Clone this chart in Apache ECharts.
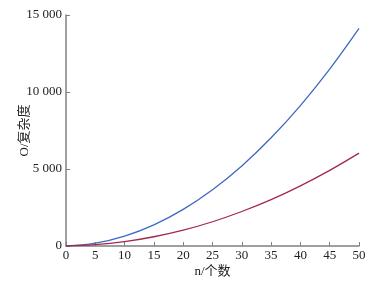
<!DOCTYPE html>
<html><head><meta charset="utf-8">
<script src="https://cdn.jsdelivr.net/npm/echarts@6/dist/echarts.min.js"></script>
<style>html,body{margin:0;padding:0;background:#fff}#c{width:392px;height:282px}</style>
</head><body><div id="c"></div>
<script>
const nValues = [0, 5, 10, 15, 20, 25, 30, 35, 40, 45, 50];
const blueSeries = [0, 185, 645, 1375, 2380, 3655, 5200, 7025, 9120, 11485, 14125];
const redSeries = [0, 86, 286, 600, 1030, 1575, 2240, 3010, 3905, 4910, 6030];
const yTicks = [0, 5000, 10000, 15000];

const font = '"Liberation Serif", "Noto Sans CJK SC", serif';
const chart = echarts.init(document.getElementById('c'), null, {renderer: 'canvas'});
chart.setOption({
  animation: false,
  grid: {left: 66, right: 33, top: 15, bottom: 36, containLabel: false, outerBoundsMode: 'none'},
  xAxis: {
    type: 'value', min: 0, max: 50, interval: 5,
    name: 'n/个数', nameLocation: 'middle', nameGap: 19, nameMoveOverlap: false,
    nameTextStyle: {fontFamily: font, fontSize: 13, color: '#222'},
    axisLine: {lineStyle: {color: '#808080', width: 1.5}},
    axisTick: {inside: true, length: 4, lineStyle: {color: '#808080'}},
    axisLabel: {fontFamily: font, fontSize: 13, color: '#222', margin: 3},
    splitLine: {show: false}
  },
  yAxis: {
    type: 'value', min: 0, max: 15000, interval: 5000,
    name: 'O/复杂度', nameLocation: 'middle', nameGap: 35, nameMoveOverlap: false,
    nameTextStyle: {fontFamily: font, fontSize: 13, color: '#222'},
    axisLine: {show: true, lineStyle: {color: '#808080', width: 1.5}},
    axisTick: {show: true, inside: true, length: 4, lineStyle: {color: '#808080'}},
    axisLabel: {fontFamily: font, fontSize: 13, color: '#222', margin: 4,
      formatter: v => yTicks.includes(v) ? String(v).replace(/\B(?=(\d{3})+(?!\d))/g, ' ') : ''},
    splitLine: {show: false}
  },
  series: [
    {type: 'line', data: nValues.map((n, i) => [n, blueSeries[i]]), smooth: 0.4, showSymbol: false,
      lineStyle: {color: '#3d69c2', width: 1.3}},
    {type: 'line', data: nValues.map((n, i) => [n, redSeries[i]]), smooth: 0.4, showSymbol: false,
      lineStyle: {color: '#a3294c', width: 1.3}}
  ]
});
</script></body></html>
